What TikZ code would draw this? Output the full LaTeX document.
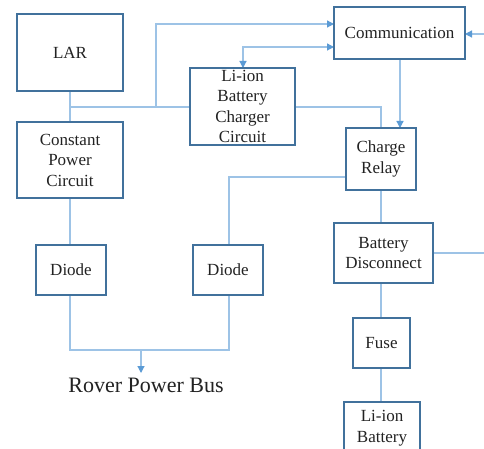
\documentclass[tikz,border=0pt]{standalone}
\usepackage{fontspec}
\setmainfont{Liberation Serif}
\usetikzlibrary{arrows.meta}
\definecolor{boxblue}{HTML}{41719C}
\definecolor{lineblue}{HTML}{9DC3E6}
\definecolor{tipblue}{HTML}{5B9BD5}
\definecolor{txt}{HTML}{222222}
\begin{document}
\begin{tikzpicture}[x=1pt,y=-1pt,
  blk/.style={draw=boxblue,line width=1.2pt,fill=white,inner sep=0pt,align=center,
    text=txt,font=\fontsize{17}{20.5}\selectfont},
  wire/.style={draw=lineblue,line width=1.2pt},
  arr/.style={wire,-{Triangle[length=7pt,width=7pt,color=tipblue]}},
  darr/.style={wire,{Triangle[length=7pt,width=7pt,color=tipblue]}-{Triangle[length=7pt,width=7pt,color=tipblue]}}]
\useasboundingbox (0,0) rectangle (484,449);
\clip (0,0) rectangle (484,449);
\fill[white] (0,0) rectangle (484,449);
% junction coordinates
\coordinate (j1) at (70,107);
\coordinate (j2) at (156,107);
\coordinate (j3) at (156,24);
\coordinate (j4) at (243,47);
\coordinate (j5) at (381,107);
\coordinate (j6) at (229,177);
\coordinate (j7) at (70,350);
\coordinate (j8) at (229,350);
\coordinate (j9) at (141,350);
\coordinate (j10) at (141,373);
\coordinate (ce) at (484,34);
\coordinate (be) at (484,253);
% wires (drawn first)
\draw[wire] (70,91) -- (70,122);
\draw[wire] (j1) -- (190,107);
\draw[arr] (j2) -- (j3) -- (334,24);
\draw[darr] (243,68) -- (j4) -- (334,47);
\draw[wire] (295,107) -- (j5) -- (381,128);
\draw[arr] (400,59) -- (400,128);
\draw[arr] (ce) -- (465,34);
\draw[wire] (346,177) -- (j6) -- (229,245);
\draw[wire] (381,190) -- (381,223);
\draw[wire] (433,253) -- (be);
\draw[wire] (381,283) -- (381,318);
\draw[wire] (381,368) -- (381,402);
\draw[wire] (70,198) -- (70,245);
\draw[wire] (70,295) -- (j7) -- (j8) -- (229,295);
\draw[arr] (j9) -- (j10);
% boxes
\node[blk,minimum width=106pt,minimum height=77pt] (lar) at (70,52.5) {LAR};
\node[blk,minimum width=106pt,minimum height=76pt] (cpc) at (70,160) {Constant\\Power\\Circuit};
\node[blk,minimum width=105pt,minimum height=77pt] (chg) at (242.5,106.5) {Li-ion\\Battery\\Charger\\Circuit};
\node[blk,minimum width=131pt,minimum height=52pt] (com) at (399.5,33) {Communication};
\node[blk,minimum width=70pt,minimum height=62pt] (cr) at (381,159) {Charge\\Relay};
\node[blk,minimum width=99pt,minimum height=60pt] (bd) at (383.5,253) {Battery\\Disconnect};
\node[blk,minimum width=57pt,minimum height=50pt] (fuse) at (381.5,343) {Fuse};
\node[blk,minimum width=76pt,minimum height=52pt] (lib) at (382,428) {Li-ion\\Battery};
\node[blk,minimum width=70pt,minimum height=50pt] (d1) at (71,270) {Diode};
\node[blk,minimum width=70pt,minimum height=50pt] (d2) at (228,270) {Diode};
\node[text=txt,font=\fontsize{22}{26}\selectfont] (bus) at (146,385) {Rover Power Bus};
\end{tikzpicture}
\end{document}
